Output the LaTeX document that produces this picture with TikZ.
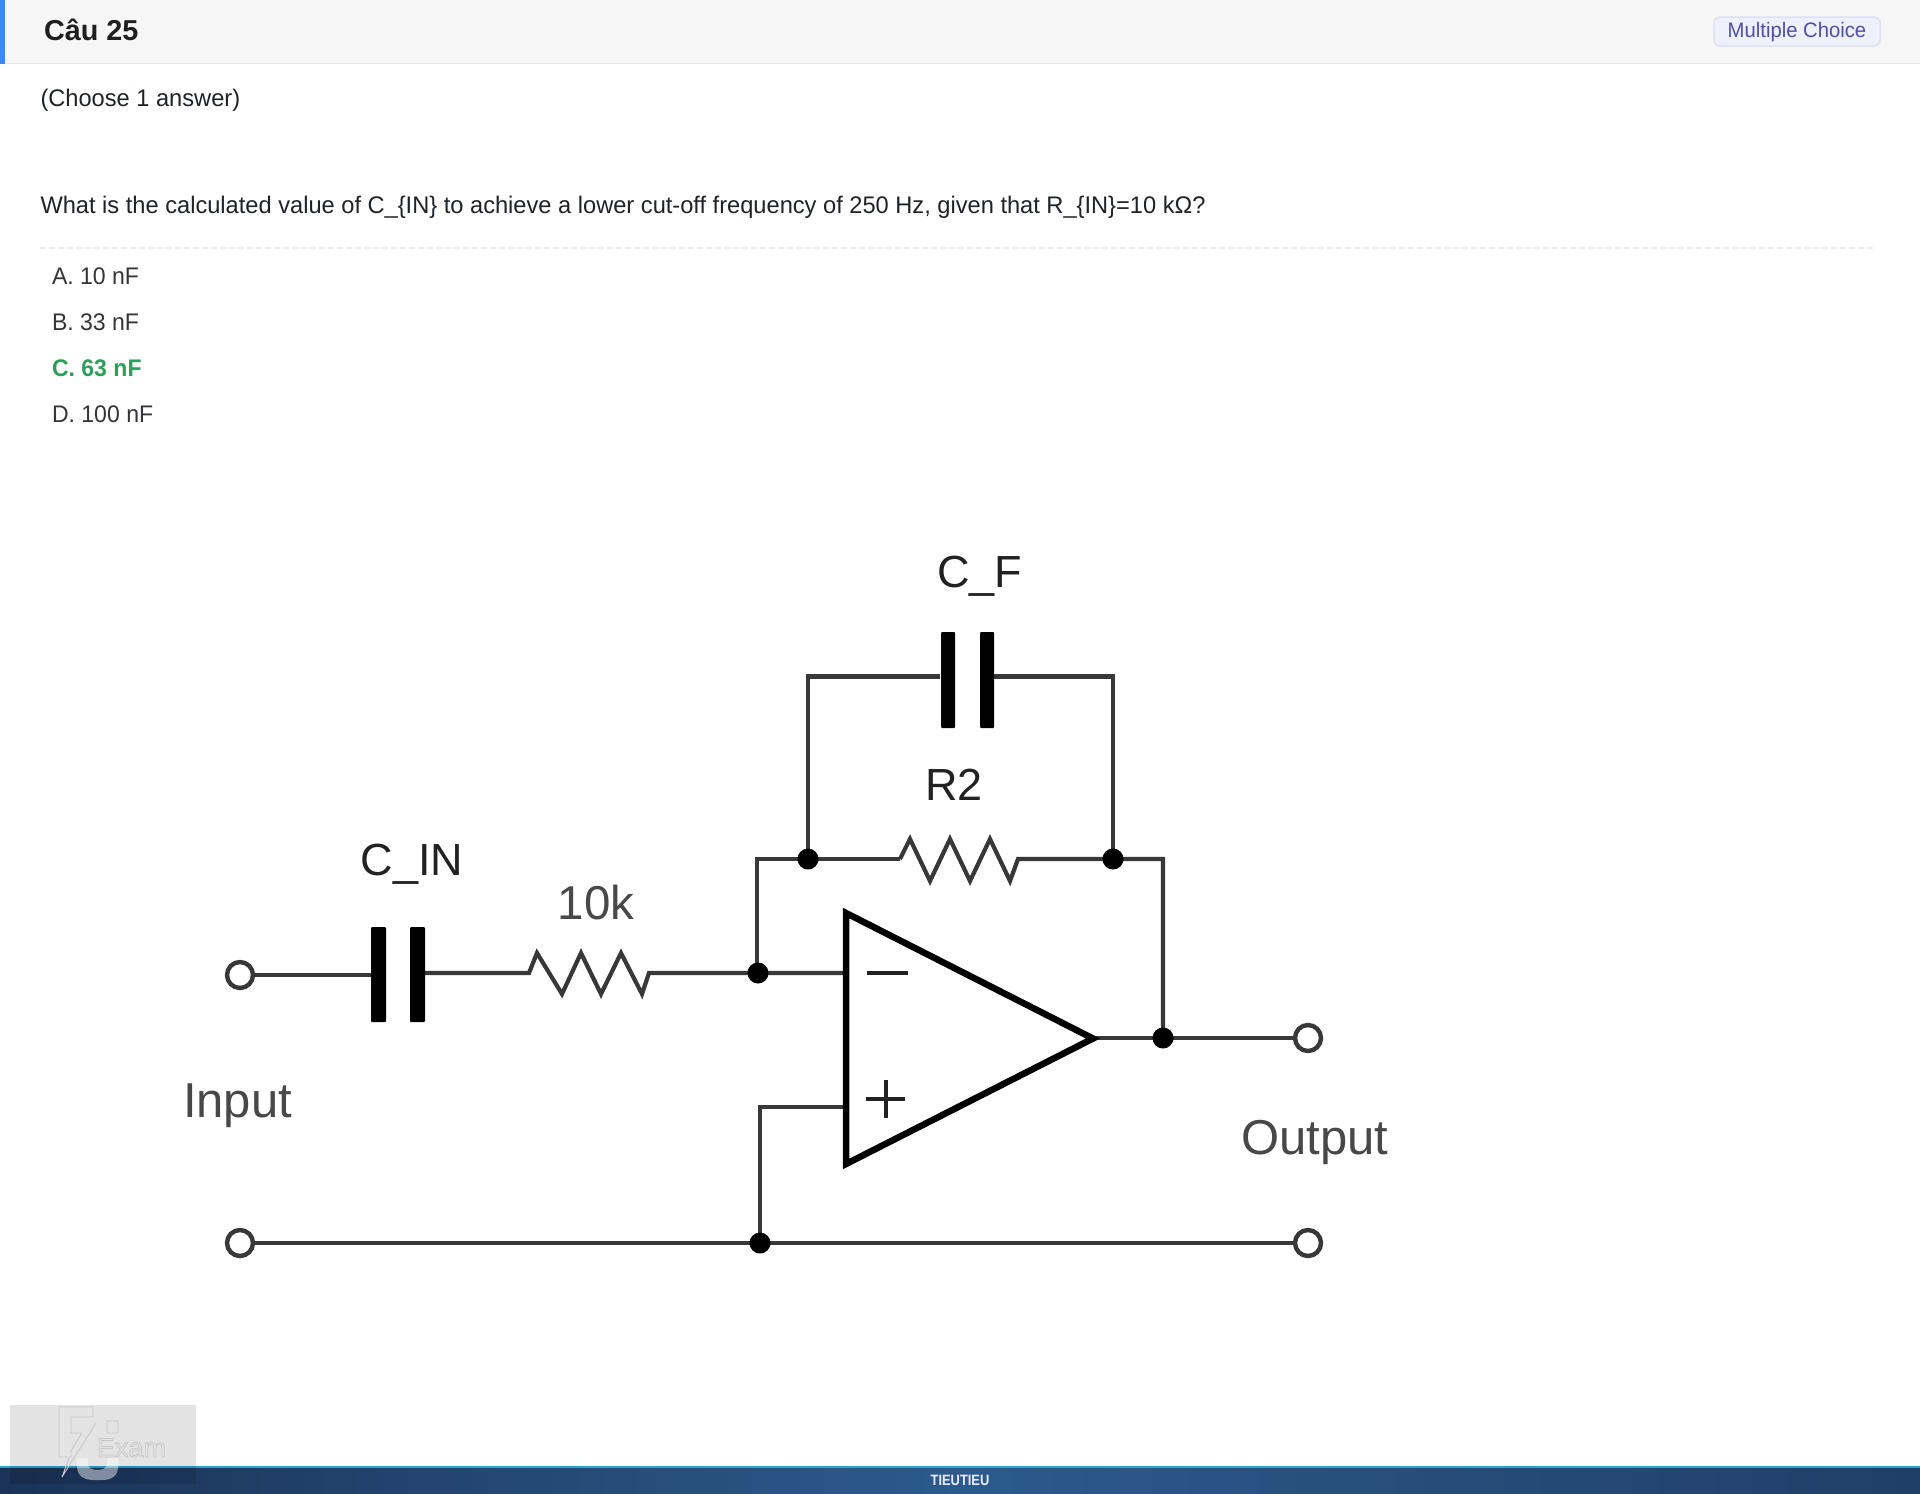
\documentclass[tikz,border=0pt]{standalone}
\usepackage{fontspec}
\setmainfont{Liberation Sans}
\newfontfamily\uifont[FakeStretch=0.985]{Liberation Sans}
\newfontfamily\optfont[FakeStretch=0.96]{Liberation Sans}
\newfontfamily\badgefont[FakeStretch=0.965]{Liberation Sans}
\newfontfamily\brandfont[FakeStretch=0.86]{Liberation Sans}
\usetikzlibrary{calc}
\definecolor{hdrbg}{HTML}{F6F6F6}
\definecolor{hdrline}{HTML}{E3E4E6}
\definecolor{bluebar}{HTML}{4285F4}
\definecolor{bodytxt}{HTML}{1F2328}
\definecolor{opttxt}{HTML}{333538}
\definecolor{greenans}{HTML}{2E9E5B}
\definecolor{badgebg}{HTML}{EEF0FB}
\definecolor{badgeln}{HTML}{DDE1F3}
\definecolor{badgetx}{HTML}{5050A5}
\definecolor{wirec}{HTML}{383838}
\definecolor{lbl}{HTML}{222222}
\definecolor{lblsoft}{HTML}{484848}
\definecolor{footdark}{HTML}{1B3358}
\definecolor{footmid}{HTML}{2C5A8C}
\definecolor{footcyan}{HTML}{2AA3D6}
\tikzset{
  x=1pt, y=-1pt,
  wire/.style={draw=wirec, line width=4.2pt, line join=miter},
  plate/.style={fill=black, draw=none, rounded corners=1pt},
  dotnode/.style={circle, fill=black, draw=none, minimum size=21pt, inner sep=0pt},
  term/.style={circle, draw=wirec, line width=4.4pt, fill=white, minimum size=26pt, inner sep=0pt},
  amp/.style={draw=black, line width=6.5pt, line join=miter, miter limit=3},
  txt/.style={inner sep=0pt, outer sep=0pt, anchor=base west},
  ctxt/.style={inner sep=0pt, outer sep=0pt, anchor=base},
  bodyt/.style={txt, text=bodytxt, font=\uifont\fontsize{24}{28}\selectfont},
  optt/.style={txt, text=opttxt, font=\optfont\fontsize{24}{28}\selectfont},
  circ/.style={ctxt, text=lbl, font=\fontsize{45}{50}\selectfont},
  circs/.style={ctxt, text=lblsoft, font=\fontsize{49}{54}\selectfont},
  logoline/.style={draw=black!22, line width=0.9pt, line join=round},
}
\begin{document}
\begin{tikzpicture}
\useasboundingbox (0,0) rectangle (1920,1494);
\fill[white] (0,0) rectangle (1920,1494);
% header
\fill[hdrbg] (0,0) rectangle (1920,63);
\fill[hdrline] (0,62.5) rectangle (1920,64);
\fill[bluebar] (0,0) rectangle (5,64);
\node[txt, text=black!88, font=\bfseries\fontsize{28.8}{32}\selectfont] (title) at (44,40) {Câu 25};
\draw[badgeln, fill=badgebg, line width=1.5pt, rounded corners=6pt] (1714,17) rectangle (1880,46);
\node[ctxt, text=badgetx, font=\badgefont\fontsize{21}{24}\selectfont] (badge) at (1797,37) {Multiple Choice};
% question
\node[bodyt] (choose) at (40.5,106) {(Choose 1 answer)};
\node[bodyt] (question) at (40.5,213) {What is the calculated value of C\_\{IN\} to achieve a lower cut-off frequency of 250 Hz, given that R\_\{IN\}=10 kΩ?};
\draw[hdrline!70, line width=1.5pt, dash pattern=on 6pt off 3pt] (40,248) -- (1876,248);
\node[optt] (optA) at (52,284) {A. 10 nF};
\node[optt] (optB) at (52,330) {B. 33 nF};
\node[optt, text=greenans, font=\optfont\bfseries\fontsize{24}{28}\selectfont] (optC) at (52,376) {C. 63 nF};
\node[optt] (optD) at (52,422) {D. 100 nF};
% wires
\draw[wire] (808,859) |- (940,676.5) (992,676.5) -| (1113,859);
\draw[wire] (757,973) |- (900,859);
\draw[wire] (900,859) -- (910,839) -- (930,881) -- (950,839) -- (970,881) -- (990,839) -- (1010,881) -- (1018,859) -- (1163,859) -- (1163,1038);
\draw[wire] (240,975) -- (372,975);
\draw[wire] (420,973) -- (529,973) -- (537,953) -- (562,994) -- (581,953) -- (601,994) -- (621,953) -- (642,994) -- (649,973) -- (848,973);
\draw[wire] (848,1107) -- (760,1107) -- (760,1243);
\draw[wire] (240,1243) -- (1308,1243);
\draw[wire] (1094,1038) -- (1308,1038);
% capacitors
\fill[plate] (941,632) rectangle (955,728);
\fill[plate] (980,632) rectangle (994,728);
\fill[plate] (371,927) rectangle (386,1022);
\fill[plate] (410,927) rectangle (425,1022);
% amp
\draw[amp] (846,913) -- (1093,1038.5) -- (846,1164) -- cycle;
\draw[draw=lbl, line width=3.5pt] (867,973) -- (908,973);
\draw[draw=lbl, line width=4pt] (866,1099) -- (905,1099) (885.5,1080) -- (885.5,1118);
% junctions
\node[dotnode] (j1) at (808,859) {};
\node[dotnode] (j2) at (1113,859) {};
\node[dotnode] (j3) at (758,973) {};
\node[dotnode] (j4) at (1163,1038) {};
\node[dotnode] (j5) at (760,1243) {};
% terminals
\node[term] (t1) at (240,975) {};
\node[term] (t2) at (240,1243) {};
\node[term] (t3) at (1308,1038) {};
\node[term] (t4) at (1308,1243) {};
% labels
\node[circ] (cf) at (979.5,587) {C\_F};
\node[circ] (r2) at (954,800.5) {R2};
\node[circ] (cin) at (412,875) {C\_IN};
\node[circs, font=\fontsize{47.5}{52}\selectfont] (rk) at (596,919) {10k};
\node[circs] (inlbl) at (237.5,1117) {Input};
\node[circs] (outlbl) at (1315,1154) {Output};
% footer
\shade[left color=footdark, right color=footmid] (0,1467) rectangle (960,1494);
\shade[left color=footmid, right color=footdark!70!footmid] (960,1467) rectangle (1920,1494);
\fill[footcyan] (0,1465.5) rectangle (1920,1468);
\node[ctxt, text=white!92!blue, font=\brandfont\bfseries\fontsize{15}{18}\selectfont] (brand) at (960,1485) {TIEUTIEU};
% watermark
\fill[black, opacity=0.11] (10,1405) rectangle (196,1484);
\fill[white, opacity=0.45] (77,1458) -- (77,1466) .. controls (77,1476) and (84,1480) .. (94,1480) -- (102,1480) .. controls (112,1480) and (118,1476) .. (118,1466) -- (118,1458) -- (107,1458) -- (107,1464) .. controls (107,1468) and (102,1470) .. (98,1470) .. controls (92,1470) and (88,1468) .. (88,1464) -- (88,1458) -- cycle;
\draw[logoline] (71,1457) -- (59,1457) -- (59,1407) -- (93,1407) -- (93,1417) -- (71,1417) -- (71,1433) -- (82,1433) -- (71,1451) -- (71,1457);
\draw[logoline] (96,1423) -- (62,1477) -- (69,1458);
\draw[logoline, rounded corners=1pt] (107,1421) rectangle (118,1433);
\node[txt, text=black!22, font=\fontsize{27}{30}\selectfont] (wm) at (97,1457) {\special{pdf:code 1 Tr 0.7 w 0.78 G}Exam\special{pdf:code 0 Tr 1 w 0 G}};
\end{tikzpicture}
\end{document}
